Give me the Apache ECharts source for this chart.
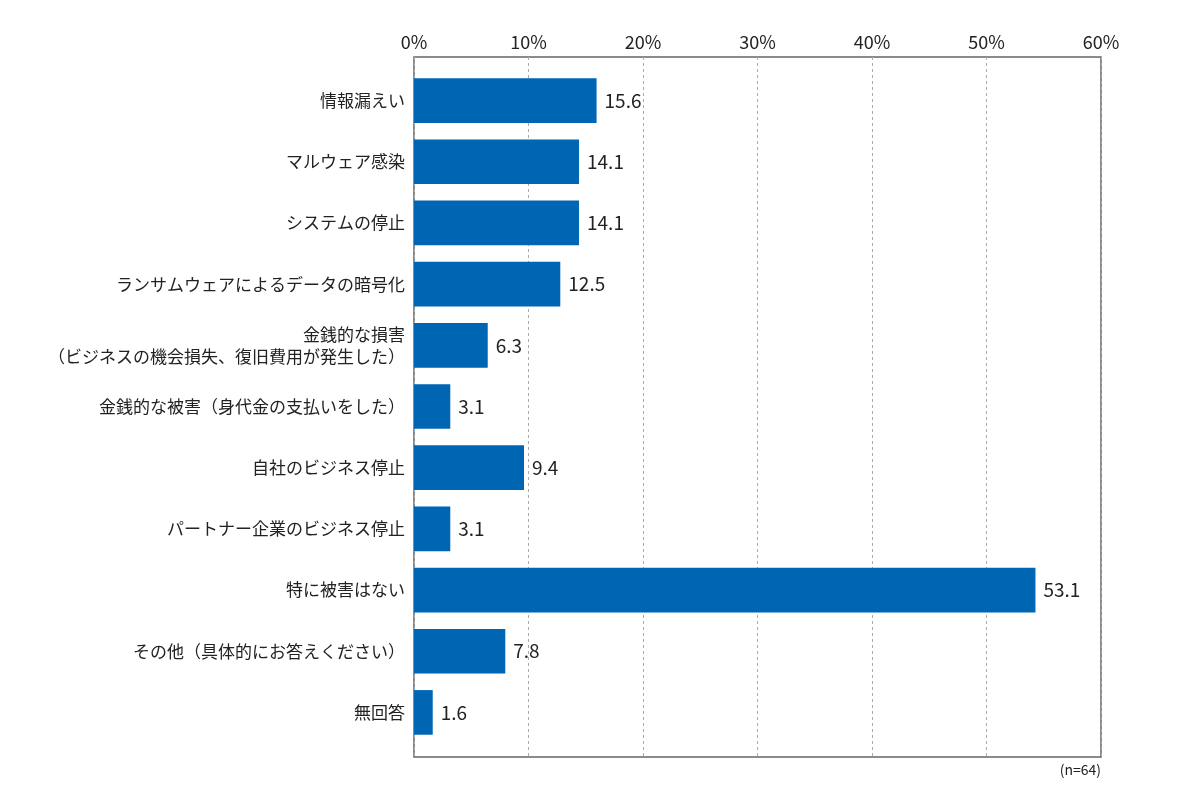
<!DOCTYPE html>
<html>
<head>
<meta charset="utf-8">
<script src="https://cdn.jsdelivr.net/npm/echarts@6/dist/echarts.min.js"></script>
<style>
html,body{margin:0;padding:0;background:#fff;}
#main{width:1200px;height:805px;}
</style>
</head>
<body>
<div id="main"></div>
<script>
// 被害の内容 (n=64)
var categories = [
    '情報漏えい',
    'マルウェア感染',
    'システムの停止',
    'ランサムウェアによるデータの暗号化',
    '金銭的な損害\n（ビジネスの機会損失、復旧費用が発生した）',
    '金銭的な被害（身代金の支払いをした）',
    '自社のビジネス停止',
    'パートナー企業のビジネス停止',
    '特に被害はない',
    'その他（具体的にお答えください）',
    '無回答'
];
var values = [15.6, 14.1, 14.1, 12.5, 6.3, 3.1, 9.4, 3.1, 53.1, 7.8, 1.6];
var xTicks = [0, 10, 20, 30, 40, 50, 60];
var note = '(n=64)';

var font = '"Noto Sans CJK JP", "Noto Sans", sans-serif';

var myChart = echarts.init(document.getElementById('main'));

var option = {
    backgroundColor: '#fff',
    animation: false,
    grid: [
        // frame + percent gridlines
        {left: 414, right: 99, top: 57, bottom: 48, show: true, borderColor: '#666', borderWidth: 1.5},
        // bars sit a little inside the frame, like the original
        {left: 414, right: 99, top: 70, bottom: 62}
    ],
    graphic: [{
        type: 'text',
        right: 99,
        top: 763,
        style: {
            text: note,
            fill: '#222',
            font: '14px ' + font
        }
    }],
    xAxis: [{
        gridIndex: 0,
        type: 'value',
        position: 'top',
        min: xTicks[0],
        max: xTicks[xTicks.length - 1],
        interval: 10,
        axisLine: {show: false},
        axisTick: {show: false},
        axisLabel: {
            formatter: '{value}%',
            color: '#222',
            fontSize: 18,
            fontFamily: font,
            margin: 6
        },
        splitLine: {
            show: true,
            lineStyle: {color: '#aaa', type: [3, 3], width: 1}
        }
    }, {
        // the bars in the source are drawn ~2% longer than the gridlines
        gridIndex: 1,
        type: 'value',
        min: 0,
        max: 58.7,
        show: false
    }],
    yAxis: [{
        gridIndex: 0,
        type: 'value',
        show: false
    }, {
        gridIndex: 1,
        type: 'category',
        inverse: true,
        data: categories,
        axisLine: {show: false},
        axisTick: {show: false},
        axisLabel: {
            color: '#222',
            fontSize: 17,
            fontFamily: font,
            margin: 9,
            lineHeight: 22,
            align: 'right'
        }
    }],
    series: [{
        type: 'bar',
        xAxisIndex: 1,
        yAxisIndex: 1,
        data: values,
        barWidth: '73%',
        itemStyle: {color: '#0066b3'},
        label: {
            show: true,
            position: 'right',
            distance: 8,
            color: '#222',
            fontSize: 19,
            fontFamily: font,
            formatter: function (p) { return p.value.toFixed(1); }
        }
    }]
};

myChart.setOption(option);
</script>
</body>
</html>
